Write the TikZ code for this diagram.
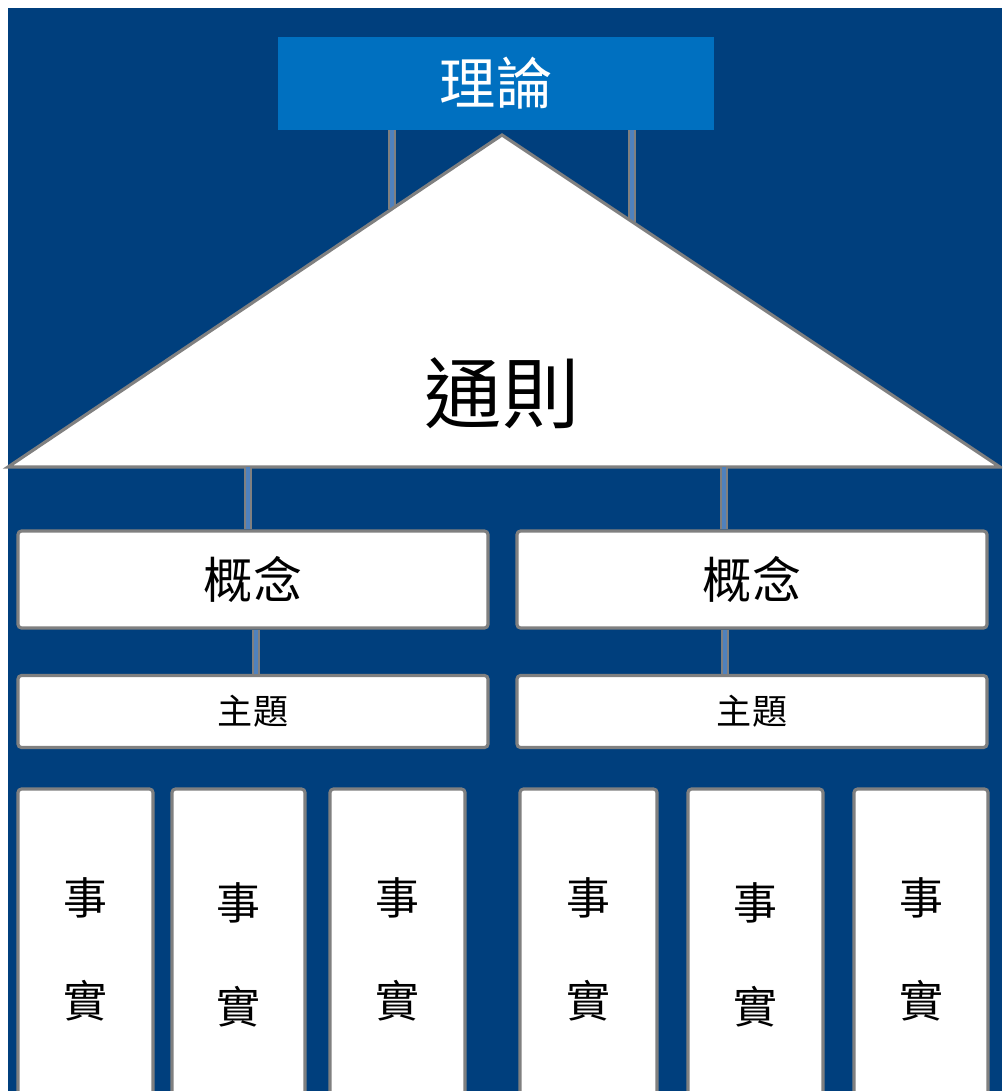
\documentclass[tikz,border=0pt]{standalone}
\usepackage{fontspec}
\newfontfamily\tcfont{Noto Sans CJK TC}
\usetikzlibrary{calc}
\definecolor{bgblue}{RGB}{0,63,125}
\definecolor{topblue}{RGB}{0,112,192}
\definecolor{postblue}{RGB}{79,129,189}
\definecolor{rim}{RGB}{128,128,128}
\tikzset{%
	box/.style      = {draw=rim, fill=white, line width=1.8pt, rounded corners=2pt,
		inner sep=0pt, font=\tcfont}, % white box
	topbox/.style   = {fill=topblue, inner sep=0pt, text=white,
		font=\tcfont\fontsize{32}{38}\selectfont}, % theory
	factbox/.style  = {box, minimum height={321*0.02cm}, align=center,
		font=\tcfont\fontsize{25}{59}\selectfont}, % fact
	post/.style     = {draw=rim, double=postblue, line width=1.1pt,
		double distance=2.6pt} % connector
}

\begin{document}
\begin{tikzpicture}[x=0.02cm, y=-0.02cm]
	\useasboundingbox (0,0) rectangle (1002,1091);
	\clip (0,0) rectangle (1002,1091);
	\fill[white] (0,0) rectangle (1002,1091);
	\fill[bgblue] (8,8) rectangle (1002,1091);

	\node[topbox, minimum width={436*0.02cm}, minimum height={93*0.02cm}] (theory) at (496,83.5) {理論};

	% triangle and its posts
	\coordinate (apex) at (502,135);
	\coordinate (left) at (8,467);
	\coordinate (right) at (1000,467);
	\coordinate (lp) at (392,209);
	\coordinate (rp) at (632,222);
	\draw[post] (lp |- theory.south) -- (lp);
	\draw[post] (rp |- theory.south) -- (rp);
	\draw[draw=rim, fill=white, line width=1.8pt] (left) -- (apex) -- (right) -- cycle;
	\node[font=\tcfont\fontsize{44}{50}\selectfont] (rule) at (502,393) {通則};

	% concepts
	\node[box, minimum width={470*0.02cm}, minimum height={97*0.02cm},
		font=\tcfont\fontsize{28}{34}\selectfont] (c1) at (253,579.5) {概念};
	\node[box, minimum width={470*0.02cm}, minimum height={97*0.02cm},
		font=\tcfont\fontsize{28}{34}\selectfont] (c2) at (752,579.5) {概念};
	\coordinate (b1) at (248,467);
	\coordinate (b2) at (724,467);
	\draw[post] (b1) -- (b1 |- c1.north);
	\draw[post] (b2) -- (b2 |- c2.north);

	% topics
	\node[box, minimum width={470*0.02cm}, minimum height={72*0.02cm},
		font=\tcfont\fontsize{20}{24}\selectfont] (t1) at (253,711.5) {主題};
	\node[box, minimum width={470*0.02cm}, minimum height={72*0.02cm},
		font=\tcfont\fontsize{20}{24}\selectfont] (t2) at (752,711.5) {主題};
	\coordinate (m1) at (256,0);
	\coordinate (m2) at (725,0);
	\draw[post] (c1.south -| m1) -- (t1.north -| m1);
	\draw[post] (c2.south -| m2) -- (t2.north -| m2);

	% facts
	\node[factbox, minimum width={135*0.02cm}] (f1) at (85.5,949.5) {事\\實};
	\node[factbox, minimum width={133*0.02cm}, minimum height={332*0.02cm}] (f2) at (238.5,955) {事\\實};
	\node[factbox, minimum width={135*0.02cm}] (f3) at (397.5,949.5) {事\\實};
	\node[factbox, minimum width={137*0.02cm}] (f4) at (588.5,949.5) {事\\實};
	\node[factbox, minimum width={135*0.02cm}, minimum height={332*0.02cm}] (f5) at (755.5,955) {事\\實};
	\node[factbox, minimum width={134*0.02cm}] (f6) at (921,949.5) {事\\實};
\end{tikzpicture}
\end{document}
